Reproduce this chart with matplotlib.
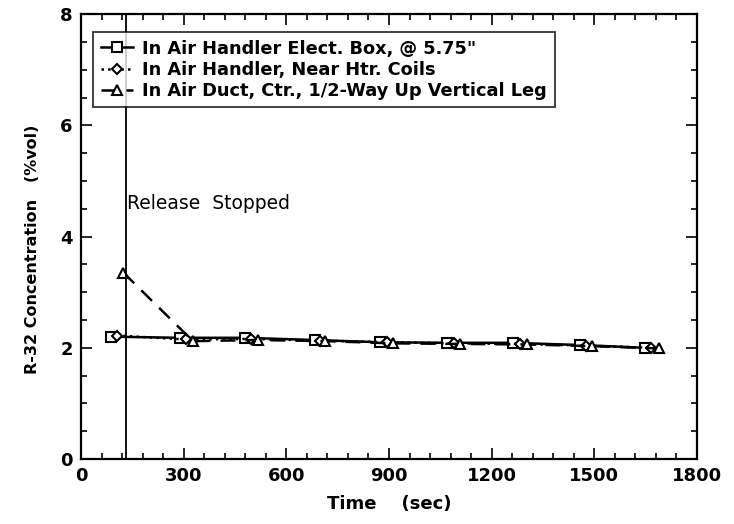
import matplotlib
matplotlib.use("Agg")
import matplotlib.pyplot as plt
from matplotlib.ticker import MultipleLocator

# R-32 concentration after release stop
t_box = [87, 289, 479, 684, 874, 1070, 1262, 1458, 1648]
c_box = [2.20, 2.18, 2.18, 2.14, 2.10, 2.09, 2.09, 2.05, 2.00]

t_coil = [104, 308, 498, 698, 893, 1089, 1282, 1475, 1665]
c_coil = [2.22, 2.15, 2.16, 2.13, 2.10, 2.08, 2.07, 2.04, 2.00]

t_duct = [124, 327, 517, 713, 912, 1108, 1303, 1493, 1688]
c_duct = [3.35, 2.12, 2.14, 2.12, 2.08, 2.07, 2.06, 2.03, 1.99]

labels = [
    'In Air Handler Elect. Box, @ 5.75"',
    "In Air Handler, Near Htr. Coils",
    "In Air Duct, Ctr., 1/2-Way Up Vertical Leg",
]
t_stop = 130

plt.rcParams["font.family"] = "DejaVu Sans"

fig = plt.figure(figsize=(7.34, 5.24), dpi=100)
ax = fig.add_axes([0.1104, 0.124, 0.8392, 0.849])

ax.plot(t_box, c_box, "-", color="black", lw=1.8, marker="s", ms=6.5,
        mfc="white", mec="black", mew=1.5, label=labels[0])
ax.plot(t_coil, c_coil, ":", color="black", lw=1.8, marker="D", ms=5.5,
        mfc="white", mec="black", mew=1.5, label=labels[1])
ax.plot(t_duct, c_duct, color="black", lw=1.8, ls=(0, (6, 4)), marker="^", ms=7.5,
        mfc="white", mec="black", mew=1.5, label=labels[2])

ax.axvline(t_stop, color="black", lw=1.3)
ax.text(t_stop + 4, 4.6, "Release  Stopped", fontsize=13.5, va="center", ha="left")

ax.set_xlim(0, 1800)
ax.set_ylim(0, 8)
ax.xaxis.set_major_locator(MultipleLocator(300))
ax.xaxis.set_minor_locator(MultipleLocator(60))
ax.yaxis.set_major_locator(MultipleLocator(2))
ax.yaxis.set_minor_locator(MultipleLocator(0.5))
ax.tick_params(which="both", direction="in", top=True, right=True, width=1.2)
ax.tick_params(which="major", length=8, labelsize=13, pad=6)
ax.tick_params(which="minor", length=4)
for lab in ax.get_xticklabels() + ax.get_yticklabels():
    lab.set_fontweight("bold")
for sp in ax.spines.values():
    sp.set_linewidth(1.6)

ax.set_xlabel("Time    (sec)", fontsize=13, fontweight="bold", labelpad=7)
ax.set_ylabel("R-32 Concentration   (%vol)", fontsize=11.5, fontweight="bold")
ax.yaxis.set_label_coords(-0.066, 0.472)

leg = ax.legend(loc="upper left", bbox_to_anchor=(0.0195, 0.9596), borderaxespad=0,
                fontsize=12.8, frameon=True, fancybox=False, edgecolor="black",
                handlelength=1.8, borderpad=0.42, labelspacing=0.18, handletextpad=0.55)
leg.get_frame().set_linewidth(1.3)
for txt in leg.get_texts():
    txt.set_fontweight("bold")

fig.savefig("out.png", dpi=100)
